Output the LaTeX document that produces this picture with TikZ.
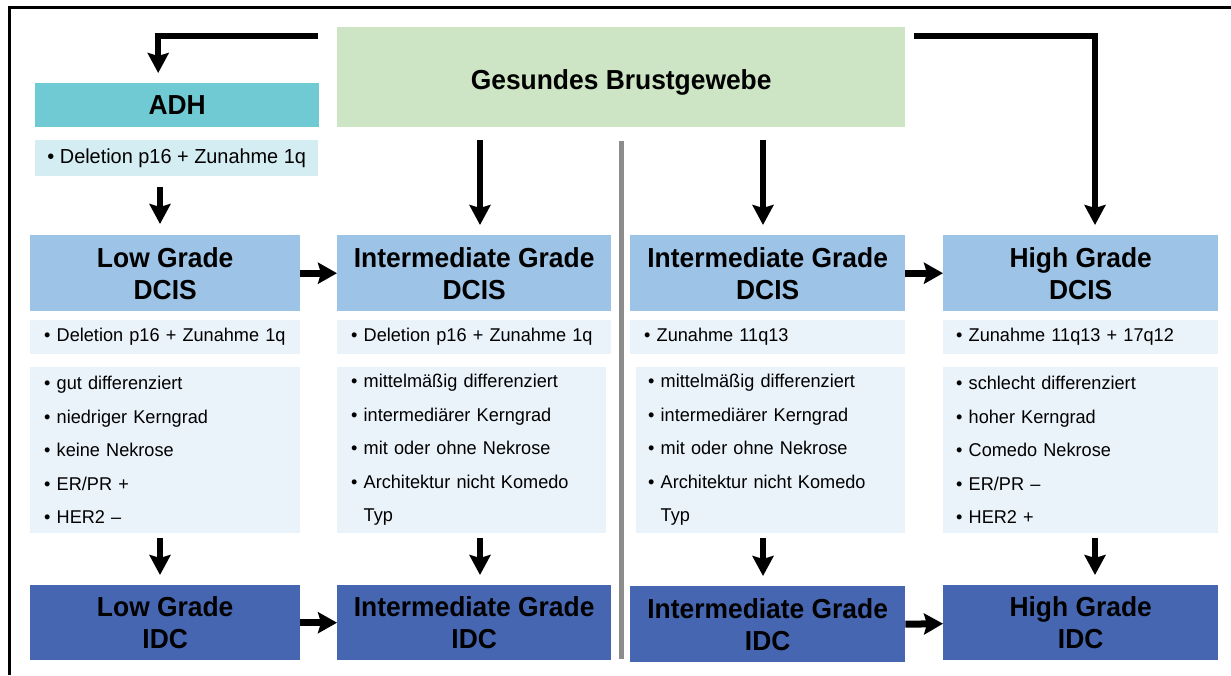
\documentclass[tikz,border=0pt]{standalone}
\usepackage{fontspec}
\setmainfont{Liberation Sans}
\newfontfamily\titlefont[FakeStretch=0.96]{Liberation Sans}
\newfontfamily\bodyfont[FakeStretch=0.98]{Liberation Sans}
\usetikzlibrary{arrows.meta,calc}
\definecolor{gruen}{HTML}{CDE5C4}
\definecolor{adhc}{HTML}{6FCAD3}
\definecolor{adhsub}{HTML}{D4EDF3}
\definecolor{dcisc}{HTML}{9DC3E6}
\definecolor{featc}{HTML}{EAF2FA}
\definecolor{idcc}{HTML}{4666B1}
\definecolor{sepc}{HTML}{8C8C8C}
\tikzset{
  boxbase/.style={rectangle, anchor=north west, inner sep=0pt, draw=none},
  titlebox/.style={boxbase, align=center, font=\titlefont\fontsize{27.5}{32}\selectfont\bfseries},
  listbox/.style={boxbase, fill=featc, align=left, inner xsep=14pt, font=\bodyfont\fontsize{18.5}{33.5}\selectfont},
  arr/.style={line width=6pt, -{Stealth[length=20pt,width=21pt,inset=3pt]}},
  harr/.style={line width=7pt, -{Stealth[length=19pt,width=21pt,inset=3pt]}},
}
\begin{document}
\begin{tikzpicture}[x=1pt,y=-1pt]
\useasboundingbox (0,0) rectangle (1231,675);
% frame
\draw[line width=2.5pt] (9.5,675) -- (9.5,7.5) -- (1231,7.5);

% top box
\node[titlebox, fill=gruen, minimum width=568pt, minimum height=100pt] (g) at (337,27) {\raisebox{-5pt}[\height][\depth]{Gesundes Brustgewebe}};
% ADH
\node[titlebox, fill=adhc, minimum width=284pt, minimum height=44pt] (adh) at (35,83) {ADH};
\node[boxbase, fill=adhsub, minimum width=283pt, minimum height=36pt, font=\bodyfont\fontsize{20.3}{24}\selectfont] (adhs) at (35,140) {• Deletion p16 + Zunahme 1q};

% DCIS row
\node[titlebox, fill=dcisc, minimum width=270pt, minimum height=76pt] (d1) at (30,235) {Low Grade\\DCIS};
\node[titlebox, fill=dcisc, minimum width=274pt, minimum height=76pt] (d2) at (337,235) {Intermediate Grade\\DCIS};
\node[titlebox, fill=dcisc, minimum width=275pt, minimum height=76pt] (d3) at (630,235) {Intermediate Grade\\DCIS};
\node[titlebox, fill=dcisc, minimum width=275pt, minimum height=76pt] (d4) at (943,235) {High Grade\\DCIS};

% genetic row
\node[listbox, text width=242pt, minimum height=34pt] (s1) at (30,320) {• Deletion p16 + Zunahme 1q};
\node[listbox, text width=246pt, minimum height=34pt] (s2) at (337,320) {• Deletion p16 + Zunahme 1q};
\node[listbox, text width=247pt, minimum height=34pt] (s3) at (630,320) {• Zunahme 11q13};
\node[listbox, inner xsep=13pt, text width=249pt, minimum height=34pt] (s4) at (943,320) {• Zunahme 11q13 + 17q12};

% feature row
\node[listbox, text width=242pt, minimum height=166pt] (f1) at (30,367) {• gut differenziert\\• niedriger Kerngrad\\• keine Nekrose\\• ER/PR +\\• HER2 –};
\node[listbox, text width=241pt, minimum height=166pt] (f2) at (337,367) {• mittelmäßig differenziert\\• intermediärer Kerngrad\\• mit oder ohne Nekrose\\• Architektur nicht Komedo\\\phantom{• }Typ};
\node[listbox, inner xsep=12pt, text width=245pt, minimum height=166pt] (f3) at (636,367) {• mittelmäßig differenziert\\• intermediärer Kerngrad\\• mit oder ohne Nekrose\\• Architektur nicht Komedo\\\phantom{• }Typ};
\node[listbox, inner xsep=13pt, text width=249pt, minimum height=166pt] (f4) at (943,367) {• schlecht differenziert\\• hoher Kerngrad\\• Comedo Nekrose\\• ER/PR –\\• HER2 +};

% IDC row
\node[titlebox, fill=idcc, minimum width=270pt, minimum height=75pt] (i1) at (30,585) {Low Grade\\IDC};
\node[titlebox, fill=idcc, minimum width=274pt, minimum height=75pt] (i2) at (337,585) {Intermediate Grade\\IDC};
\node[titlebox, fill=idcc, minimum width=275pt, minimum height=76pt] (i3) at (630,586) {Intermediate Grade\\IDC};
\node[titlebox, fill=idcc, minimum width=275pt, minimum height=75pt] (i4) at (943,585) {High Grade\\IDC};

% separator
\draw[sepc, line width=5pt] (621,141) -- (621,659);

% column x positions of vertical arrows
\coordinate (x1) at (160,0);
\coordinate (x2) at (480,0);
\coordinate (x3) at (763,0);
\coordinate (x4) at (1095,0);

% arrows from top box
\draw[arr] ($(g.north west)+(-19,9)$) -| ($(adh.north)+(-19,-10)$);
\draw[arr] ($(g.north east)+(9,9)$) -| ([yshift=10pt]d4.north -| x4);
\draw[arr] ([yshift=-13pt]g.south -| x2) -- ([yshift=10pt]d2.north -| x2);
\draw[arr] ([yshift=-13pt]g.south -| x3) -- ([yshift=10pt]d3.north -| x3);
\draw[arr] ([yshift=-11pt]adhs.south -| x1) -- ([yshift=11pt]d1.north -| x1);

% horizontal arrows
\draw[harr] (d1.east) -- (d2.west);
\draw[harr] (d3.east) -- (d4.west);
\draw[harr] (i1.east) -- (i2.west);
\draw[harr] (i3.east) -- ([yshift=-1pt]i4.west);

% lower arrows
\draw[arr] ([yshift=-5pt]f1.south -| x1) -- ([yshift=10pt]i1.north -| x1);
\draw[arr] ([yshift=-5pt]f2.south -| x2) -- ([yshift=10pt]i2.north -| x2);
\draw[arr] ([yshift=-5pt]f3.south -| x3) -- ([yshift=10pt]i3.north -| x3);
\draw[arr] ([yshift=-5pt]f4.south -| x4) -- ([yshift=10pt]i4.north -| x4);
\end{tikzpicture}
\end{document}
